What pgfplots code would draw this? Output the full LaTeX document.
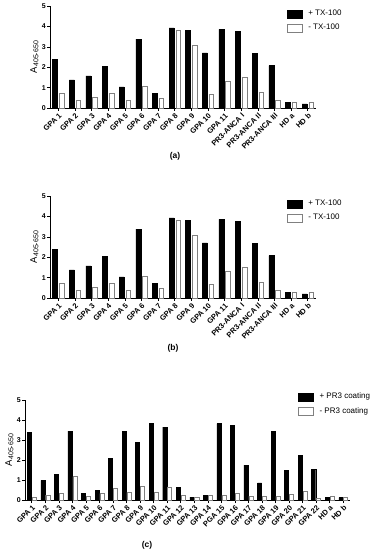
\documentclass[border=0pt]{standalone}
\usepackage{fontspec}
\setmainfont{Liberation Sans}
\usepackage{pgfplots}
\usepackage{pgfplotstable}
\pgfplotsset{compat=1.18}
\pgfplotstableread{
x plus minus
0 2.39 0.71
1 1.38 0.36
2 1.58 0.52
3 2.03 0.72
4 1.03 0.39
5 3.38 1.08
6 0.72 0.48
7 3.93 3.82
8 3.82 3.08
9 2.70 0.67
10 3.85 1.32
11 3.76 1.52
12 2.67 0.78
13 2.08 0.40
14 0.26 0.30
15 0.20 0.30
}\tabTX
\pgfplotstableread{
x plus minus
0 3.40 0.15
1 0.98 0.25
2 1.28 0.34
3 3.45 1.17
4 0.35 0.20
5 0.50 0.33
6 2.08 0.58
7 3.45 0.38
8 2.88 0.70
9 3.82 0.41
10 3.65 0.66
11 0.64 0.26
12 0.15 0.12
13 0.25 0.22
14 3.82 0.23
15 3.75 0.34
16 1.75 0.20
17 0.86 0.18
18 3.42 0.18
19 1.48 0.30
20 2.23 0.45
21 1.55 0.10
22 0.15 0.19
23 0.12 0.15
}\tabPR
\pgfplotsset{
  mybar/.style={
    scale only axis,
    axis lines*=left,
    axis line style={-, line width=0.8pt},
    ymin=0, ymax=5, ytick={0,1,2,3,4,5},
    tick align=outside, tick style={black, line width=0.6pt}, major tick length=3pt,
    xtick=data,
    x tick label style={font=\bfseries\fontsize{7.5}{8}\selectfont, rotate=45, anchor=north east, inner sep=1pt},
    y tick label style={font=\bfseries\fontsize{7}{8}\selectfont, inner sep=1pt},
    /pgf/number format/assume math mode=true,
    ylabel={A\raisebox{-0.3ex}{\fontsize{7}{8}\selectfont 405-650}},
    ylabel style={font=\fontsize{9.5}{10}\selectfont, yshift=-1pt},
    legend style={draw=none, fill=none, font=\fontsize{8}{9}\selectfont, inner sep=0pt, row sep=3pt},
    legend cell align=left,
    legend image code/.code={\draw[##1] (0pt,-4pt) rectangle (15pt,4pt); \path (19pt,0pt);},
    clip=false,
  },
}
\begin{document}
\begin{tikzpicture}[x=1pt,y=1pt]
\path[use as bounding box] (0,0) rectangle (372,550);
% (a)
\begin{axis}[mybar, at={(50pt,442pt)}, anchor=south west, width=266pt, height=102pt,
  xmin=-0.5, xmax=15.5,
  xticklabels={GPA 1,GPA 2,GPA 3,GPA 4,GPA 5,GPA 6,GPA 7,GPA 8,GPA 9,GPA 10,GPA 11,PR3-ANCA I,PR3-ANCA II,PR3-ANCA III,HD a,HD b},
  legend style={at={(rel axis cs:0.89,0.98)}, anchor=north west}]
\addplot[ybar, bar width=0.3, bar shift=-0.19, fill=black, draw=black] table[x=x,y=plus]{\tabTX};
\addplot[ybar, bar width=0.27, bar shift=0.2, fill=white, draw=gray] table[x=x,y=minus]{\tabTX};
\legend{+ TX-100, - TX-100}
\end{axis}
\node[font=\bfseries\fontsize{8.5}{10}\selectfont] at (175,394) {(a)};
% (b)
\begin{axis}[mybar, at={(50pt,252pt)}, anchor=south west, width=266pt, height=102pt,
  xmin=-0.5, xmax=15.5,
  xticklabels={GPA 1,GPA 2,GPA 3,GPA 4,GPA 5,GPA 6,GPA 7,GPA 8,GPA 9,GPA 10,GPA 11,PR3-ANCA I,PR3-ANCA II,PR3-ANCA III,HD a,HD b},
  legend style={at={(rel axis cs:0.89,0.98)}, anchor=north west}]
\addplot[ybar, bar width=0.3, bar shift=-0.19, fill=black, draw=black] table[x=x,y=plus]{\tabTX};
\addplot[ybar, bar width=0.27, bar shift=0.2, fill=white, draw=gray] table[x=x,y=minus]{\tabTX};
\legend{+ TX-100, - TX-100}
\end{axis}
\node[font=\bfseries\fontsize{8.5}{10}\selectfont] at (173,202) {(b)};
% (c)
\begin{axis}[mybar, at={(25pt,50pt)}, anchor=south west, width=325pt, height=100pt,
  xmin=-0.5, xmax=23.5,
  xticklabels={GPA 1,GPA 2,GPA 3,GPA 4,GPA 5,GPA 6,GPA 7,GPA 8,GPA 9,GPA 10,GPA 11,GPA 12,GPA 13,GPA 14,PGA 15,GPA 16,GPA 17,GPA 18,GPA 19,GPA 20,GPA 21,GPA 22,HD a,HD b},
  legend style={at={(rel axis cs:0.84,1.09)}, anchor=north west}]
\addplot[ybar, bar width=0.3, bar shift=-0.18, fill=black, draw=black] table[x=x,y=plus]{\tabPR};
\addplot[ybar, bar width=0.3, bar shift=0.18, fill=white, draw=gray] table[x=x,y=minus]{\tabPR};
\legend{+ PR3 coating, - PR3 coating}
\end{axis}
\node[font=\bfseries\fontsize{8.5}{10}\selectfont] at (147,5) {(c)};
\end{tikzpicture}
\end{document}
